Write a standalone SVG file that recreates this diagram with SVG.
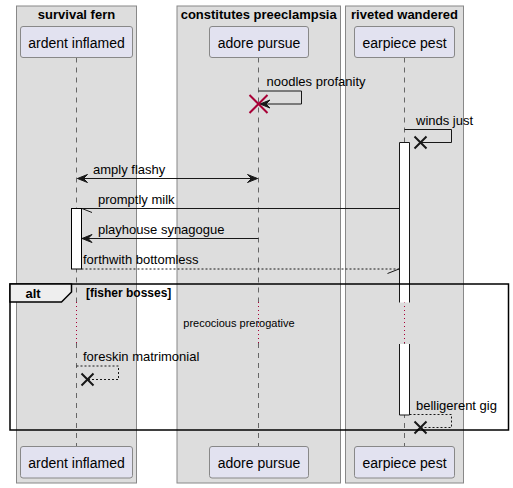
<svg xmlns="http://www.w3.org/2000/svg" width="513" height="488" viewBox="0 0 513 488">
<defs>
<style>
.box{fill:#DDDDDD;stroke:#888888;stroke-width:1}
.part{fill:#E2E2F0;stroke:#888888;stroke-width:1}
.title{font-family:"Liberation Sans",Arial,sans-serif;font-size:13px;font-weight:bold;fill:#000;text-anchor:middle}
.plabel{font-family:"Liberation Sans",Arial,sans-serif;font-size:14px;fill:#000;text-anchor:middle}
.msg{font-family:"Liberation Sans",Arial,sans-serif;font-size:13px;fill:#000}
.life{stroke:#666666;stroke-width:1;stroke-dasharray:5,5;fill:none}
.delay{stroke:#A80036;stroke-width:1;stroke-dasharray:1,3;fill:none}
.act{fill:#FFFFFF;stroke:#000;stroke-width:1}
.line{stroke:#181818;stroke-width:1;fill:none}
.dash{stroke:#181818;stroke-width:1;fill:none;stroke-dasharray:2,2}
.head{fill:#181818;stroke:#181818;stroke-width:1}
.x{stroke:#181818;stroke-width:2;fill:none}
.xred{stroke:#A80036;stroke-width:2;fill:none}
</style>
</defs>

<g id="box-survival-fern">
<rect class="box" x="16.5" y="6" width="120" height="477"/>
<text class="title" x="76.5" y="18.5">survival fern</text>
</g>
<g id="box-constitutes-preeclampsia">
<rect class="box" x="177" y="6" width="163.5" height="477"/>
<text class="title" x="258.7" y="18.5">constitutes preeclampsia</text>
</g>
<g id="box-riveted-wandered">
<rect class="box" x="345.5" y="6" width="118" height="477"/>
<text class="title" x="404.5" y="18.5">riveted wandered</text>
</g>

<g id="lifelines">
<path class="life" d="M76.5,57.5 V302 M76.5,343 V446.5"/>
<path class="life" d="M258.5,57.5 V302 M258.5,343 V446.5"/>
<path class="life" d="M404.5,57.5 V302 M404.5,343 V446.5"/>
<path class="delay" d="M76.5,302 V343 M258.5,302 V343 M404.5,302 V343"/>
</g>

<g id="activations">
<rect class="act" x="71.5" y="208.5" width="10" height="60.5"/>
<rect x="399.5" y="142.5" width="10" height="160" fill="#FFFFFF" stroke="none"/>
<path class="line" d="M399.5,302.5 V142.5 H409.5 V302.5" stroke="#000"/>
<rect x="399.5" y="344" width="10" height="71" fill="#FFFFFF" stroke="none"/>
<path class="line" d="M399.5,344 V415 H409.5 V344" stroke="#000"/>
</g>

<g id="participant-ardent-inflamed">
<rect class="part" x="20.5" y="26.5" width="112" height="31" rx="2.5"/>
<text class="plabel" x="76.5" y="47.5">ardent inflamed</text>
<rect class="part" x="20.5" y="446.5" width="112" height="31.5" rx="2.5"/>
<text class="plabel" x="76.5" y="467.5">ardent inflamed</text>
</g>
<g id="participant-adore-pursue">
<rect class="part" x="209.5" y="26.5" width="99" height="31" rx="2.5"/>
<text class="plabel" x="259" y="47.5">adore pursue</text>
<rect class="part" x="209.5" y="446.5" width="99" height="31.5" rx="2.5"/>
<text class="plabel" x="259" y="467.5">adore pursue</text>
</g>
<g id="participant-earpiece-pest">
<rect class="part" x="354.5" y="26.5" width="100" height="31" rx="2.5"/>
<text class="plabel" x="404.5" y="47.5">earpiece pest</text>
<rect class="part" x="354.5" y="446.5" width="100" height="31.5" rx="2.5"/>
<text class="plabel" x="404.5" y="467.5">earpiece pest</text>
</g>

<g id="connectors">
<!-- noodles profanity -->
<polyline class="line" points="258.5,91 301.5,91 301.5,104 260,104"/>
<polygon class="head" points="260,104 270,100 266,104 270,108"/>
<path class="xred" d="M249.5,95 L267.5,113 M267.5,95 L249.5,113"/>
<text class="msg" x="266.5" y="86">noodles profanity</text>

<!-- winds just -->
<polyline class="line" points="404.5,129.5 451.5,129.5 451.5,142.5 420.5,142.5"/>
<path class="x" d="M414.5,136.5 L426.5,148.5 M426.5,136.5 L414.5,148.5"/>
<text class="msg" x="416" y="125">winds just</text>

<!-- amply flashy -->
<line class="line" x1="77.5" y1="178.5" x2="257.5" y2="178.5"/>
<polygon class="head" points="77.5,178.5 87.5,174.5 83.5,178.5 87.5,182.5"/>
<polygon class="head" points="257.5,178.5 247.5,174.5 251.5,178.5 247.5,182.5"/>
<text class="msg" x="93" y="173.5">amply flashy</text>

<!-- promptly milk -->
<line class="line" x1="399.5" y1="208.5" x2="82" y2="208.5"/>
<line class="line" x1="82" y1="208.5" x2="92" y2="212.5"/>
<text class="msg" x="98" y="203.5">promptly milk</text>

<!-- playhouse synagogue -->
<line class="line" x1="258.5" y1="238.5" x2="82" y2="238.5"/>
<polygon class="head" points="82,238.5 92,234.5 88,238.5 92,242.5"/>
<text class="msg" x="98" y="233.5">playhouse synagogue</text>

<!-- forthwith bottomless -->
<line class="dash" x1="81.5" y1="269" x2="399" y2="269"/>
<line class="line" x1="399" y1="269" x2="387.5" y2="273.5"/>
<text class="msg" x="83" y="263.5">forthwith bottomless</text>

<!-- foreskin matrimonial -->
<polyline class="dash" points="76.5,366 118.5,366 118.5,379.5 87.5,379.5"/>
<path class="x" d="M81.5,373.5 L93.5,385.5 M93.5,373.5 L81.5,385.5"/>
<text class="msg" x="83" y="361">foreskin matrimonial</text>

<!-- belligerent gig -->
<polyline class="dash" points="409.5,414.5 451.5,414.5 451.5,427.5 420.5,427.5"/>
<path class="x" d="M414.5,421.5 L426.5,433.5 M426.5,421.5 L414.5,433.5"/>
<text class="msg" x="416" y="409.5">belligerent gig</text>
</g>

<g id="frame-alt">
<rect x="10" y="284" width="498.5" height="146" fill="none" stroke="#000" stroke-width="1.5"/>
<polygon points="10,284 71.5,284 71.5,292 61.5,302 10,302" fill="#EEEEEE" stroke="#000" stroke-width="1.5"/>
<text x="25.5" y="298" font-family="Liberation Sans, Arial, sans-serif" font-size="13" font-weight="bold" fill="#000">alt</text>
<text x="86" y="297" font-family="Liberation Sans, Arial, sans-serif" font-size="12" font-weight="bold" fill="#000">[fisher bosses]</text>
</g>

<g id="delay">
<text x="183.3" y="327" font-family="Liberation Sans, Arial, sans-serif" font-size="11" fill="#000">precocious prerogative</text>
</g>
</svg>
